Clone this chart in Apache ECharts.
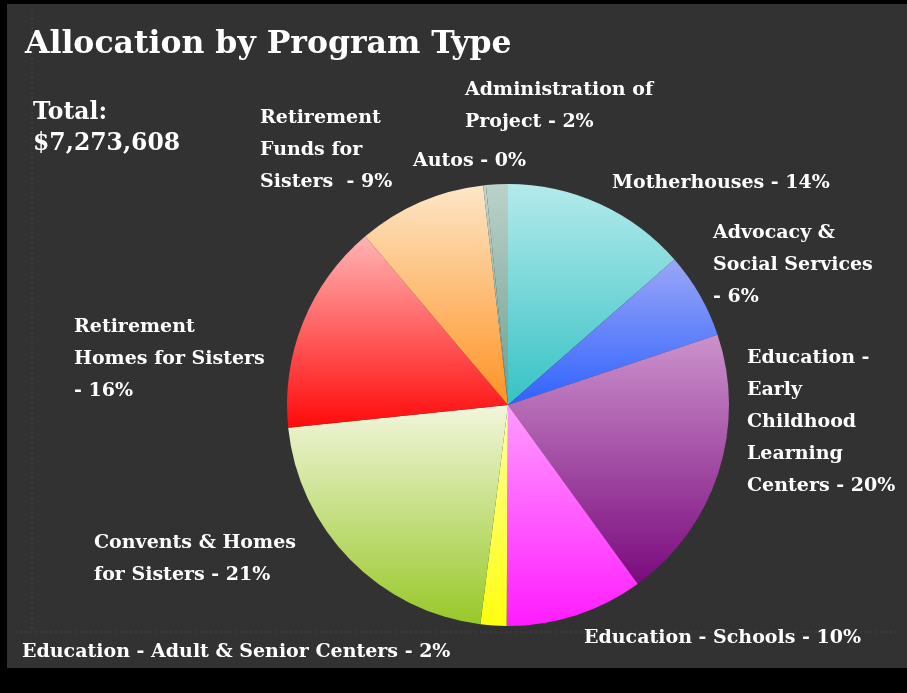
<!DOCTYPE html>
<html>
<head>
<meta charset="utf-8">
<script src="https://cdn.jsdelivr.net/npm/echarts@6/dist/echarts.min.js"></script>
<style>
html,body{margin:0;padding:0;background:#000;}
#chart{width:907px;height:693px;}
</style>
</head>
<body>
<div id="chart"></div>
<script>
// ---- data ----
const categories = [
  'Motherhouses',
  'Advocacy & Social Services',
  'Education - Early Childhood Learning Centers',
  'Education - Schools',
  'Education - Adult & Senior Centers',
  'Convents & Homes for Sisters',
  'Retirement Homes for Sisters',
  'Retirement Funds for Sisters',
  'Autos',
  'Administration of Project'
];
// percent of total allocation
const percents = [13.6, 6.3, 20.2, 10.1, 1.9, 21.4, 15.5, 9.4, 0.2, 1.6];
// label text (wrapped), percent appended
const labelPrefixes = [
  'Motherhouses - ',
  'Advocacy &\nSocial Services\n- ',
  'Education -\nEarly\nChildhood\nLearning\nCenters - ',
  'Education - Schools - ',
  'Education - Adult & Senior Centers - ',
  'Convents & Homes\nfor Sisters - ',
  'Retirement\nHomes for Sisters\n- ',
  'Retirement\nFunds for\nSisters  - ',
  'Autos - ',
  'Administration of\nProject - '
];
const titleText = 'Allocation by Program Type';
const totalText = 'Total:\n$7,273,608';

// ---- style ----
const gradients = [
  ['#b4eaec', '#36c2c4'],
  ['#9aa6f6', '#2f62ff'],
  ['#cc92cc', '#7a0a7e'],
  ['#ff9cff', '#ff1cff'],
  ['#ffff9a', '#ffff10'],
  ['#f2f6dc', '#98c828'],
  ['#ffb4b4', '#ff0a0a'],
  ['#fde6c8', '#ff9222'],
  ['#c0d4cc', '#7aa898'],
  ['#bcd2ca', '#6e9e8e']
];
const labelPos = [
  [612, 167], [713, 217], [747, 342], [584, 622], [22, 636],
  [94, 527], [74, 311], [260, 102], [413, 145], [465, 74]
];
const FONT = 'DejaVu Serif';

const chart = echarts.init(document.getElementById('chart'), null, {renderer: 'canvas'});
const seriesData = categories.map((c, i) => ({
  name: c,
  value: percents[i],
  itemStyle: {
    color: {
      type: 'linear', x: 0, y: 0, x2: 0, y2: 1,
      colorStops: [{offset: 0, color: gradients[i][0]}, {offset: 1, color: gradients[i][1]}]
    }
  }
}));

chart.setOption({
  backgroundColor: '#000',
  animation: false,
  graphic: [
    {type: 'rect', shape: {x: 7, y: 4, width: 900, height: 664}, style: {fill: '#323232'}, z: -10},
    {type: 'line', shape: {x1: 32, y1: 12, x2: 32, y2: 632}, style: {stroke: '#444', lineWidth: 1, lineDash: [2, 3]}, z: -9},
    {type: 'line', shape: {x1: 15, y1: 632, x2: 900, y2: 632}, style: {stroke: '#444', lineWidth: 1, lineDash: [2, 3]}, z: -9},
    {type: 'text', left: 25, top: 29, style: {text: titleText, fill: '#fff', font: 'bold 31.5px "' + FONT + '"'}},
    {type: 'text', left: 33, top: 97, style: {text: totalText, fill: '#fff', font: 'bold 23.5px "' + FONT + '"', lineHeight: 31}}
  ],
  series: [{
    type: 'pie',
    center: [508, 405],
    radius: 221,
    startAngle: 90,
    clockwise: true,
    data: seriesData,
    label: {
      show: true,
      position: 'outside',
      color: '#fff',
      fontFamily: FONT,
      fontWeight: 'bold',
      fontSize: 19,
      lineHeight: 32,
      overflow: 'none',
      formatter: p => labelPrefixes[p.dataIndex] + Math.round(p.value) + '%'
    },
    labelLine: {show: false},
    labelLayout: p => ({
      x: labelPos[p.dataIndex][0],
      y: labelPos[p.dataIndex][1],
      align: 'left',
      verticalAlign: 'top',
      width: 300
    }),
    emphasis: {disabled: true}
  }]
});
</script>
</body>
</html>
